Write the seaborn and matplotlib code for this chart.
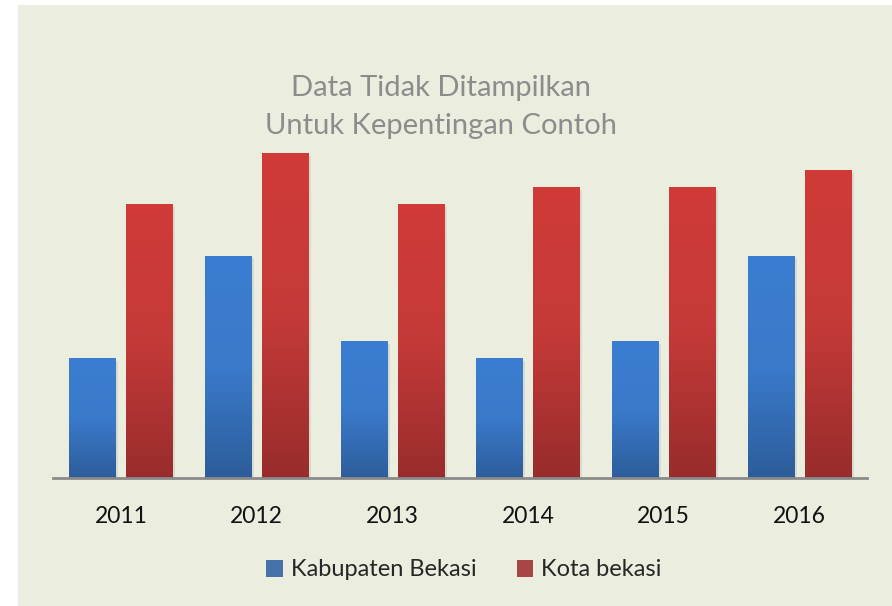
"""Kabupaten vs Kota Bekasi - grouped bars with gradient fill"""

import numpy as np, matplotlib.pyplot as plt
import seaborn as sns, pandas as pd
from matplotlib.colors import LinearSegmentedColormap
from matplotlib.patches import Rectangle
import matplotlib.patheffects as pe

sns.set_theme(style="white")
plt.rcParams['font.family'] = ['Lato', 'DejaVu Sans']

# Data (values hidden in the original; read as relative heights)
years = ['2011', '2012', '2013', '2014', '2015', '2016']
kabupaten = [7, 13, 8, 7, 8, 13]
kota = [16, 19, 16, 17, 17, 18]
series = ['Kabupaten Bekasi', 'Kota bekasi']

df = pd.DataFrame({
    'Tahun': years * 2,
    'Nilai': kabupaten + kota,
    'Wilayah': [series[0]] * len(years) + [series[1]] * len(years),
})

bg = '#EBEEDF'
fig = plt.figure(figsize=(8.92, 6.06), dpi=100, facecolor='white')
fig.patches.append(Rectangle((18 / 892, 0), 1 - 18 / 892, 1 - 5 / 606,
                             transform=fig.transFigure, facecolor=bg,
                             edgecolor='none', zorder=-10))
ax = fig.add_axes([53 / 892, (606 - 478) / 606, (867 - 53) / 892, (478 - 100) / 606])
ax.set_facecolor('none')

sns.barplot(data=df, x='Tahun', y='Nilai', hue='Wilayah',
            palette=['#3570BB', '#B93434'], width=0.84, gap=0.19,
            edgecolor='none', linewidth=0, ax=ax, zorder=2)

# gradient fills clipped to each bar
grads = [LinearSegmentedColormap.from_list('b', ['#2D5D9A', '#3A7ACB', '#3B7DD0']),
         LinearSegmentedColormap.from_list('r', ['#982C2C', '#C43A38', '#D03B38'])]
grad = np.linspace(0, 1, 256).reshape(-1, 1)
for cont, cmap in zip(ax.containers, grads):
    for bar in cont:
        x, w, h = bar.get_x(), bar.get_width(), bar.get_height()
        bar.set_path_effects([pe.SimplePatchShadow(offset=(2, -2), alpha=0.12,
                                                   shadow_rgbFace='#555555'), pe.Normal()])
        im = ax.imshow(grad, extent=[x, x + w, 0, h], origin='lower', aspect='auto',
                       cmap=cmap, zorder=3)
        im.set_clip_path(bar)

ax.set_xlim(-0.5, 5.5)
ax.set_ylim(0, 22.1)
ax.set_xlabel('')
ax.set_ylabel('')
ax.set_yticks([])
ax.tick_params(axis='x', length=0, pad=20, labelsize=16.5, colors='#111111')
for s in ['left', 'right', 'top']:
    ax.spines[s].set_visible(False)
ax.spines['bottom'].set_color('#8A8A8A')
ax.spines['bottom'].set_linewidth(2)
ax.spines['bottom'].set_zorder(4)

handles, labels = ax.get_legend_handles_labels()
ax.get_legend().remove()
leg = fig.legend(handles, labels, loc='center', bbox_to_anchor=(464 / 892, 1 - 570 / 606),
                 ncol=2, frameon=False, fontsize=17, handlelength=0.7, handleheight=0.7,
                 handletextpad=0.35, columnspacing=1.7)
for hnd in leg.legend_handles:
    hnd.set_edgecolor('none')

fig.text(441 / 892, 1 - 107 / 606, 'Data Tidak Ditampilkan\nUntuk Kepentingan Contoh',
         ha='center', va='center', fontsize=21, color='#8C8C8C', linespacing=1.55)

plt.savefig('out.png', dpi=100, facecolor=fig.get_facecolor())
plt.close()
